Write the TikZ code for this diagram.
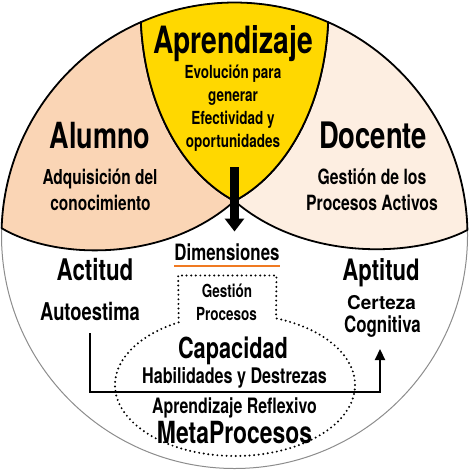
\documentclass[tikz,border=0pt]{standalone}
\usepackage{fontspec}
\setmainfont{TeX Gyre Heros}[FakeStretch=0.75]
\usetikzlibrary{arrows.meta,calc}
\definecolor{alumnoc}{HTML}{FAD5B5}
\definecolor{docentec}{HTML}{FDEEE1}
\definecolor{aprc}{HTML}{FFD800}
\definecolor{dimc}{HTML}{F07A22}
\definecolor{rimc}{HTML}{8C8C8C}
\newcommand{\fsz}[1]{\fontsize{#1}{#1}\selectfont\bfseries}
\begin{document}
\begin{tikzpicture}[x=1pt,y=-1pt,
  region/.style={draw=black, line width=1.8pt, line join=round},
  lbl/.style={inner sep=0pt, anchor=base, text=black},
  dotline/.style={line width=2.2pt, dash pattern=on 0pt off 4.6pt, line cap=round},
  conn/.style={line width=2.2pt},
]
\useasboundingbox (0,0) rectangle (469,471);
\coordinate (C) at (234.5,235.5);
\coordinate (O) at (234.5,201);
\coordinate (TL) at ([shift={(234.5,235.5)}]246.3:233);
\coordinate (TR) at ([shift={(234.5,235.5)}]293.7:233);
\coordinate (PL) at ([shift={(234.5,235.5)}]181.8:233);
\coordinate (PR) at ([shift={(234.5,235.5)}]358.65:233);
% outer circle
\draw[rimc, line width=1pt, fill=white] (C) circle[radius=233];
% Alumno
\path[region, fill=alumnoc] (O) .. controls (165,263) and (55,260) .. (PL)
  arc[start angle=181.8, end angle=246.3, radius=233]
  .. controls (145,110) and (185,175) .. (O) -- cycle;
% Docente
\path[region, fill=docentec] (O) .. controls (304,261) and (414,258) .. (PR)
  arc[start angle=358.65, end angle=293.7, radius=233]
  .. controls (324,110) and (284,175) .. (O) -- cycle;
% Aprendizaje lens
\path[region, fill=aprc] (TL) arc[start angle=246.3, end angle=293.7, radius=233]
  .. controls (324,110) and (284,175) .. (O)
  .. controls (185,175) and (145,110) .. (TL) -- cycle;
% dotted rectangle + ellipse
\coordinate (E) at (235,385);
\draw[dotline] ([shift={(235,385)}]242:120 and 71) -- (178.2,275.5) -- (276.5,275.5)
  -- ([shift={(235,385)}]-70:120 and 71)
  arc[start angle=-70, end angle=242, x radius=120, y radius=71];
% texts top
\node[lbl, font=\fsz{37.6}] (apr) at (233,53) {Aprendizaje};
\node[lbl, font=\fsz{18}] (apr1) at (233,78) {Evolución para};
\node[lbl, font=\fsz{18}] (apr2) at (233,101) {generar};
\node[lbl, font=\fsz{18}] (apr3) at (233,124) {Efectividad y};
\node[lbl, font=\fsz{18}] (apr4) at (233,147) {oportunidades};
\node[lbl, font=\fsz{36}] (alu) at (100,148) {Alumno};
\node[lbl, font=\fsz{20.6}] (alu1) at (100,184) {Adquisición del};
\node[lbl, font=\fsz{20.6}] (alu2) at (100.5,210) {conocimiento};
\node[lbl, font=\fsz{36.5}] (doc) at (373,148) {Docente};
\node[lbl, font=\fsz{21}] (doc1) at (372,184) {Gestión de los};
\node[lbl, font=\fsz{21}] (doc2) at (372,210) {Procesos Activos};
% lower texts
\node[lbl, font=\fsz{22.5}] (dim) at (227,260) {Dimensiones};
\draw[dimc, line width=2pt] ($(dim.base west)+(0,5.5)$) -- ($(dim.base east)+(0,5.5)$);
\node[lbl, font=\fsz{29.8}] (act) at (95,280) {Actitud};
\node[lbl, font=\fsz{24.5}] (act1) at (90,320) {Autoestima};
\node[lbl, font=\fsz{29.5}] (apt) at (381,280) {Aptitud};
\node[lbl, font=\fsz{19}] (apt1) at (381.5,309.5) {\scalebox{1.33}[1]{Certeza}};
\node[lbl, font=\fsz{22.5}] (apt2) at (382.5,332.5) {Cognitiva};
\node[lbl, font=\fsz{18}] (ges1) at (227,297) {Gestión};
\node[lbl, font=\fsz{18}] (ges2) at (226.5,320) {Procesos};
\node[lbl, font=\fsz{29}] (cap) at (233,358) {Capacidad};
\node[lbl, font=\fsz{21.5}] (cap1) at (234.5,383) {Habilidades y Destrezas};
\node[lbl, font=\fsz{21.2}] (met1) at (234.5,413) {Aprendizaje Reflexivo};
\node[lbl, font=\fsz{30.5}] (met) at (234.5,443) {MetaProcesos};
% arrows
\coordinate (as) at (234.5,167);
\coordinate (ae) at (234.5,231.5);
\draw[line width=9pt, -{Triangle[width=19pt,length=13pt]}] (as) -- (ae);
\coordinate (bl) at (90,333);
\coordinate (bm) at (380,392);
\coordinate (br) at (380,349);
\draw[conn, -{Triangle[width=10pt,length=11pt]}] (bl) |- (bm) -- (br);
\end{tikzpicture}
\end{document}
